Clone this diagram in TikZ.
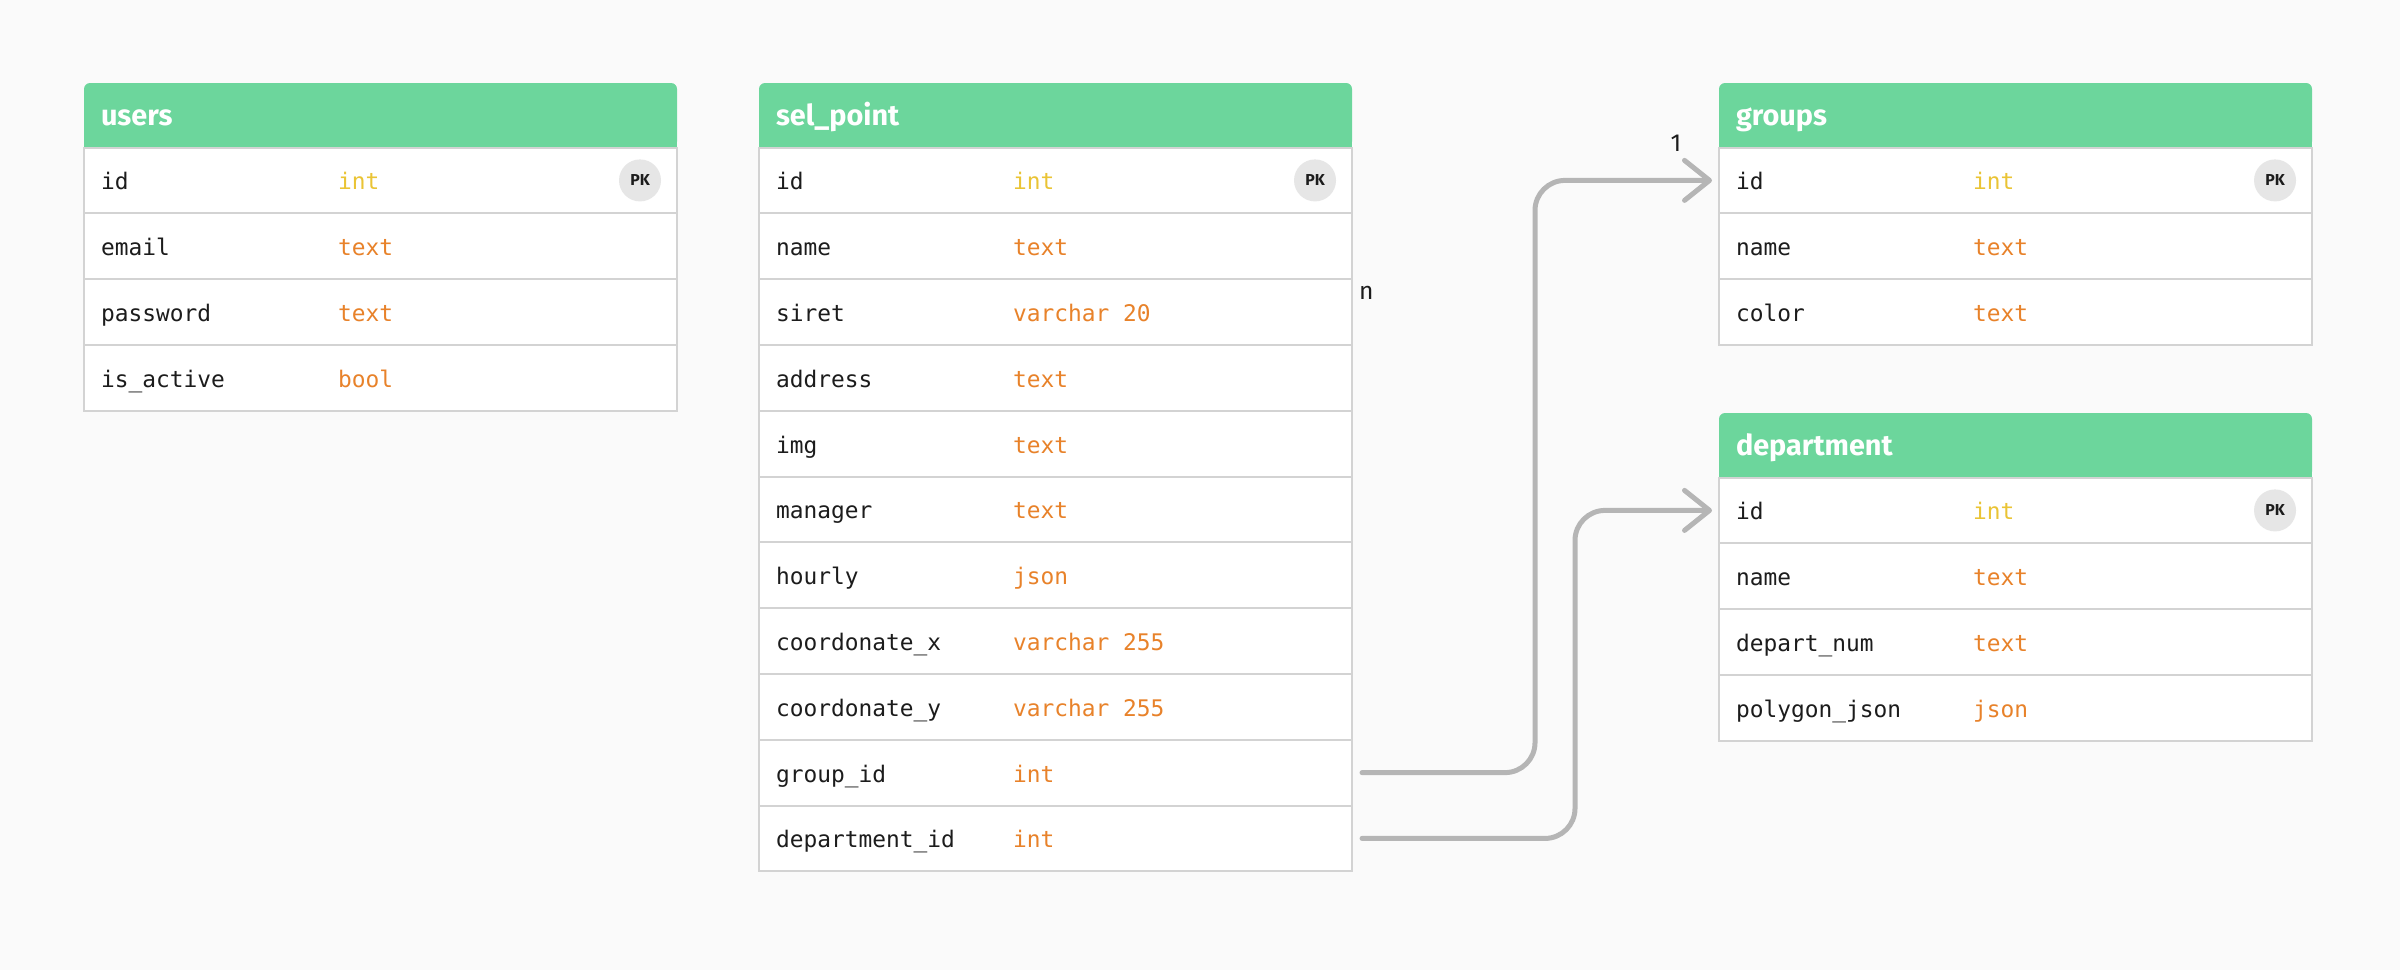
\documentclass[tikz,border=0pt]{standalone}
\usepackage{fontspec}
\setmainfont{Fira Sans}
\setmonofont{DejaVu Sans Mono}
\usetikzlibrary{positioning,arrows.meta}
\definecolor{bgcol}{HTML}{FAFAFA}
\definecolor{hdcol}{HTML}{6CD69C}
\definecolor{rowline}{HTML}{D3D3D3}
\definecolor{intcol}{HTML}{EAC435}
\definecolor{txtcol}{HTML}{E8822A}
\definecolor{fkcol}{HTML}{B5B5B5}
\definecolor{pkcol}{HTML}{E6E6E6}
\definecolor{inkcol}{HTML}{1C1C1C}
\begin{document}
\begin{tikzpicture}[inner sep=0pt,outer sep=0pt,
tblhead/.style={fill=hdcol,rounded corners=0.06cm,minimum width=5.93cm,minimum height=0.645cm,anchor=north west},
tblrow/.style={draw=rowline,fill=white,line width=0.02cm,minimum width=5.93cm,minimum height=0.658cm,anchor=north},
headtxt/.style={font=\fontsize{8.2}{10}\selectfont\bfseries,text=white,anchor=base west},
fieldtxt/.style={font=\fontsize{6.5}{8}\selectfont\ttfamily,text=inkcol,anchor=base west},
typetxt/.style={font=\fontsize{6.5}{8}\selectfont\ttfamily,anchor=base west},
pkbadge/.style={circle,fill=pkcol,minimum size=0.42cm,font=\fontsize{4.5}{5}\selectfont\bfseries,text=inkcol},
card/.style={font=\fontsize{7}{8}\selectfont,text=inkcol},
fk/.style={draw=fkcol,line width=0.05cm,line cap=round,rounded corners=0.3cm,-{Straight Barb[length=0.25cm,width=0.4cm,round]}}]

\fill[bgcol] (0,0) rectangle (24,-9.7);
\useasboundingbox (0,0) rectangle (24,-9.7);

% users
\node[tblhead] (users) at (0.84,-0.83) {};
\fill[hdcol] (users.west) rectangle (users.south east);
\node[headtxt] at ([xshift=0.17cm,yshift=-0.1cm]users.west) {users};
\foreach \f/\t/\c [count=\i] in {id/int/intcol,email/text/txtcol,password/text/txtcol,is\_active/bool/txtcol}{
  \node[tblrow] (users-\i) at ([yshift={-(\i-1)*0.658cm}]users.south) {};
  \node[fieldtxt] at ([xshift=0.17cm,yshift=-0.095cm]users-\i.west) {\f};
  \node[typetxt,text=\c] at ([xshift=2.54cm,yshift=-0.095cm]users-\i.west) {\t};
}
\node[pkbadge] at ([xshift=-0.37cm]users-1.east) {PK};

% sel_point
\node[tblhead] (sel) at (7.59,-0.83) {};
\fill[hdcol] (sel.west) rectangle (sel.south east);
\node[headtxt] at ([xshift=0.17cm,yshift=-0.1cm]sel.west) {sel\_point};
\foreach \f/\t/\c [count=\i] in {id/int/intcol,name/text/txtcol,siret/varchar 20/txtcol,address/text/txtcol,img/text/txtcol,manager/text/txtcol,hourly/json/txtcol,coordonate\_x/varchar 255/txtcol,coordonate\_y/varchar 255/txtcol,group\_id/int/txtcol,department\_id/int/txtcol}{
  \node[tblrow] (sel-\i) at ([yshift={-(\i-1)*0.658cm}]sel.south) {};
  \node[fieldtxt] at ([xshift=0.17cm,yshift=-0.095cm]sel-\i.west) {\f};
  \node[typetxt,text=\c] at ([xshift=2.54cm,yshift=-0.095cm]sel-\i.west) {\t};
}
\node[pkbadge] at ([xshift=-0.37cm]sel-1.east) {PK};

% groups
\node[tblhead] (groups) at (17.19,-0.83) {};
\fill[hdcol] (groups.west) rectangle (groups.south east);
\node[headtxt] at ([xshift=0.17cm,yshift=-0.1cm]groups.west) {groups};
\foreach \f/\t/\c [count=\i] in {id/int/intcol,name/text/txtcol,color/text/txtcol}{
  \node[tblrow] (groups-\i) at ([yshift={-(\i-1)*0.658cm}]groups.south) {};
  \node[fieldtxt] at ([xshift=0.17cm,yshift=-0.095cm]groups-\i.west) {\f};
  \node[typetxt,text=\c] at ([xshift=2.54cm,yshift=-0.095cm]groups-\i.west) {\t};
}
\node[pkbadge] at ([xshift=-0.37cm]groups-1.east) {PK};

% department
\node[tblhead] (dept) at (17.19,-4.13) {};
\fill[hdcol] (dept.west) rectangle (dept.south east);
\node[headtxt] at ([xshift=0.17cm,yshift=-0.1cm]dept.west) {department};
\foreach \f/\t/\c [count=\i] in {id/int/intcol,name/text/txtcol,depart\_num/text/txtcol,polygon\_json/json/txtcol}{
  \node[tblrow] (dept-\i) at ([yshift={-(\i-1)*0.658cm}]dept.south) {};
  \node[fieldtxt] at ([xshift=0.17cm,yshift=-0.095cm]dept-\i.west) {\f};
  \node[typetxt,text=\c] at ([xshift=2.54cm,yshift=-0.095cm]dept-\i.west) {\t};
}
\node[pkbadge] at ([xshift=-0.37cm]dept-1.east) {PK};

% references
\draw[fk] ([xshift=0.1cm]sel-10.east) -- ++(1.73,0) |- ([xshift=-0.07cm]groups-1.west);
\draw[fk] ([xshift=0.1cm]sel-11.east) -- ++(2.13,0) |- ([xshift=-0.07cm]dept-1.west);
\node[card] at ([xshift=-0.43cm,yshift=0.37cm]groups-1.west) {1};
\node[card,anchor=west] at ([xshift=0.07cm,yshift=0.19cm]sel-3.east) {n};

\end{tikzpicture}
\end{document}
